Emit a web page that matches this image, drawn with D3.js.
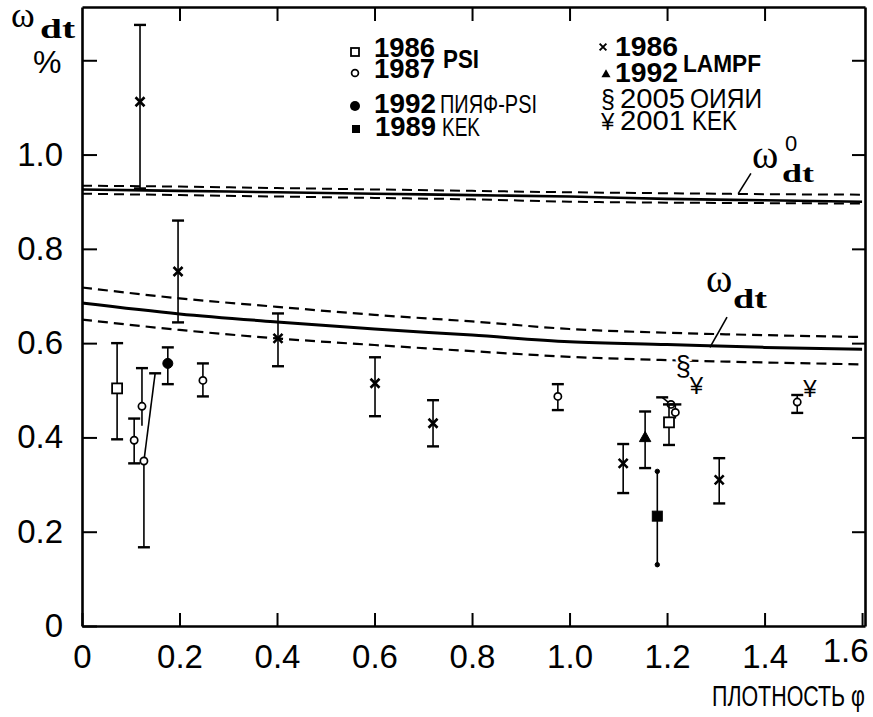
<!DOCTYPE html>
<html><head><meta charset="utf-8">
<script src="https://cdn.jsdelivr.net/npm/d3@7/dist/d3.min.js"></script>
<style>body{margin:0;background:#fff}svg{display:block}</style>
</head><body>
<svg id="c" width="873" height="717"></svg>
<script>
// ---- data ----
const xTicks = [0,0.2,0.4,0.6,0.8,1.0,1.2,1.4,1.6];
const xTickLabels = ["0","0.2","0.4","0.6","0.8","1.0","1.2","1.4","1.6"];
const yTicks = [0,0.2,0.4,0.6,0.8,1.0,1.2];
const yTickLabels = ["0","0.2","0.4","0.6","0.8","1.0",""];

const curvePhi = [0,0.2,0.4,0.6,0.8,1.0,1.2,1.4,1.6];
const wdt     = [0.685,0.662,0.645,0.630,0.617,0.603,0.597,0.591,0.587];
const wdtUp   = [0.718,0.695,0.677,0.660,0.646,0.630,0.622,0.617,0.613];
const wdtLo   = [0.650,0.628,0.610,0.596,0.583,0.571,0.564,0.559,0.555];
const w0      = [0.926,0.923,0.920,0.917,0.914,0.911,0.906,0.903,0.900];
const w0Up    = [0.934,0.932,0.929,0.926,0.923,0.920,0.918,0.916,0.915];
const w0Lo    = [0.917,0.914,0.911,0.908,0.905,0.900,0.898,0.897,0.896];

const lampf1986 = [
  {phi:0.119,w:1.112,lo:0.928,hi:1.275},
  {phi:0.197,w:0.752,lo:0.644,hi:0.860},
  {phi:0.402,w:0.610,lo:0.551,hi:0.663},
  {phi:0.601,w:0.515,lo:0.445,hi:0.570},
  {phi:0.720,w:0.430,lo:0.381,hi:0.479},
  {phi:1.110,w:0.345,lo:0.282,hi:0.386},
  {phi:1.307,w:0.310,lo:0.260,hi:0.356}
];
const lampf1992 = [{phi:1.155,w:0.400,lo:0.335,hi:0.455}];
const kek1989   = [{phi:1.180,w:0.233,lo:0.130,hi:0.328}];
const psi1986   = [
  {phi:0.072,w:0.504,lo:0.396,hi:0.600},
  {phi:1.204,w:0.432,lo:0.384,hi:0.470}
];
const psi1987   = [
  {phi:0.107,w:0.394,lo:0.345,hi:0.440},
  {phi:0.123,w:0.466,lo:0.425,hi:0.547,noLoCap:true},
  {phi:0.127,w:0.350,lo:0.167,hi:0.536,phiHi:0.150},
  {phi:0.248,w:0.521,lo:0.487,hi:0.557},
  {phi:0.976,w:0.487,lo:0.458,hi:0.513},
  {phi:1.208,w:0.470,lo:0.462,hi:0.485,phiHi:1.190,noLoCap:true},
  {phi:1.217,w:0.453,lo:0.440,hi:0.470,noLoCap:true},
  {phi:1.467,w:0.475,lo:0.452,hi:0.490}
];
const pnpi1992  = [{phi:0.176,w:0.557,lo:0.513,hi:0.591}];
const jinr2005  = [{phi:1.233,w:0.553}];
const kek2001   = [{phi:1.260,w:0.510},{phi:1.493,w:0.504}];

// ---- chart ----
const svg = d3.select("#c");
const x = d3.scaleLinear().domain([0,1.606]).range([82,865]);
const y = d3.scaleLinear().domain([0,1.313]).range([626,7]);
const FONT = "Liberation Sans, Arial, Helvetica, sans-serif";
const SERIF = "Liberation Serif, Times New Roman, serif";

// axes
const ax = svg.append("g").attr("font-family",FONT);
const gB = ax.append("g").attr("transform",`translate(0,${y(0)})`)
  .call(d3.axisBottom(x).tickValues(xTicks).tickSizeInner(-13).tickSizeOuter(0).tickPadding(19)
    .tickFormat((d,i)=>xTickLabels[i]));
gB.selectAll(".tick text").filter((d,i)=>i===xTicks.length-1).attr("dx",-17).attr("dy","0.53em");
const gL = ax.append("g").attr("transform",`translate(${x(0)},0)`)
  .call(d3.axisLeft(y).tickValues(yTicks).tickSizeInner(-15).tickSizeOuter(0).tickPadding(19)
    .tickFormat((d,i)=>yTickLabels[i]));
const gT = ax.append("g").attr("transform",`translate(0,${y.range()[1]})`)
  .call(d3.axisTop(x).tickValues(xTicks.slice(1,-1)).tickSizeInner(-14).tickSizeOuter(0).tickFormat(""));
const gR = ax.append("g").attr("transform",`translate(${x.range()[1]},0)`)
  .call(d3.axisRight(y).tickValues(yTicks.slice(1)).tickSizeInner(-13).tickSizeOuter(0).tickFormat(""));
[gB,gL,gT,gR].forEach(g=>{
  g.select(".domain").attr("stroke","#000").attr("stroke-width",2.6);
  g.selectAll(".tick line").attr("stroke","#000").attr("stroke-width",2);
  g.selectAll(".tick text").attr("fill","#000").attr("font-size",33);
});

// curves
const line = d3.line().x(d=>x(d[0])).y(d=>y(d[1])).curve(d3.curveMonotoneX);
const cg = svg.append("g").attr("fill","none").attr("stroke","#000");
function curve(vals, dashed, w){
  cg.append("path").attr("d",line(curvePhi.map((p,i)=>[p,vals[i]])))
    .attr("stroke-width",w).attr("stroke-dasharray",dashed?"10,6":null);
}
curve(wdt,false,3); curve(wdtUp,true,2.2); curve(wdtLo,true,2.2);
curve(w0,false,2.6); curve(w0Up,true,2); curve(w0Lo,true,2);

// leader lines for curve labels
svg.append("line").attr("x1",x(1.288)).attr("y1",y(0.591)).attr("x2",x(1.323)).attr("y2",y(0.655))
  .attr("stroke","#000").attr("stroke-width",1.6);
svg.append("line").attr("x1",x(1.346)).attr("y1",y(0.917)).attr("x2",x(1.372)).attr("y2",y(0.960))
  .attr("stroke","#000").attr("stroke-width",1.6);

// markers
function marker(g,type,cx,cy,s){
  s = s||1;
  if(type==="x"){
    const r=4.5*s;
    g.append("path").attr("d",`M${cx-r},${cy-r}L${cx+r},${cy+r}M${cx-r},${cy+r}L${cx+r},${cy-r}`)
      .attr("stroke","#000").attr("stroke-width",2.6*s).attr("fill","none");
  } else if(type==="sq"){
    const r=5*s;
    g.append("rect").attr("x",cx-r).attr("y",cy-r).attr("width",2*r).attr("height",2*r)
      .attr("fill","#fff").attr("stroke","#000").attr("stroke-width",1.8);
  } else if(type==="fsq"){
    const r=5*s;
    g.append("rect").attr("x",cx-r).attr("y",cy-r).attr("width",2*r).attr("height",2*r).attr("fill","#000");
  } else if(type==="o"){
    g.append("circle").attr("cx",cx).attr("cy",cy).attr("r",3.6*s)
      .attr("fill","#fff").attr("stroke","#000").attr("stroke-width",1.7);
  } else if(type==="fo"){
    g.append("circle").attr("cx",cx).attr("cy",cy).attr("r",5*s).attr("fill","#000");
  } else if(type==="tri"){
    const r=6*s;
    g.append("path").attr("d",`M${cx},${cy-r}L${cx+r*0.95},${cy+r*0.7}L${cx-r*0.95},${cy+r*0.7}Z`).attr("fill","#000");
  }
}
const pg = svg.append("g");
function series(data,type,capStyle){
  data.forEach(d=>{
    const cx=x(d.phi), cy=y(d.w);
    const g=pg.append("g").attr("stroke","#000");
    const topX = d.phiHi!==undefined ? x(d.phiHi) : cx;
    g.append("line").attr("x1",cx).attr("y1",cy).attr("x2",topX).attr("y2",y(d.hi)).attr("stroke-width",1.6);
    g.append("line").attr("x1",cx).attr("y1",cy).attr("x2",cx).attr("y2",y(d.lo)).attr("stroke-width",1.6);
    if(capStyle==="dot"){
      g.append("circle").attr("cx",cx).attr("cy",y(d.hi)).attr("r",2.2).attr("fill","#000");
      g.append("circle").attr("cx",cx).attr("cy",y(d.lo)).attr("r",2.2).attr("fill","#000");
    } else {
      g.append("line").attr("x1",topX-6).attr("x2",topX+6).attr("y1",y(d.hi)).attr("y2",y(d.hi)).attr("stroke-width",2.4);
      if(!d.noLoCap) g.append("line").attr("x1",cx-6).attr("x2",cx+6).attr("y1",y(d.lo)).attr("y2",y(d.lo)).attr("stroke-width",2.4);
    }
    marker(g,type,cx,cy);
  });
}
series(lampf1986,"x");
series(lampf1992,"tri");
series(kek1989,"fsq","dot");
series(psi1987,"o");
series(psi1986,"sq");
series(pnpi1992,"fo");

// text symbols
jinr2005.forEach(d=>{
  svg.append("text").attr("x",x(d.phi)).attr("y",y(d.w)).attr("dy","0.35em").attr("text-anchor","middle")
    .attr("font-family",FONT).attr("font-size",27).text("§")
    .attr("stroke","#fff").attr("stroke-width",5).attr("paint-order","stroke").attr("fill","#000");
});
kek2001.forEach(d=>{
  svg.append("text").attr("x",x(d.phi)).attr("y",y(d.w)).attr("dy","0.36em").attr("text-anchor","middle")
    .attr("font-family",FONT).attr("font-size",24).attr("fill","#000").text("¥");
});

// legend
const lg = svg.append("g").attr("font-family",FONT).attr("fill","#000");
function t(xp,yp,str,size,bold,len){
  const e=lg.append("text").attr("x",xp).attr("y",yp).attr("font-size",size)
    .attr("font-weight",bold?"bold":"normal").text(str);
  if(len) e.attr("textLength",len).attr("lengthAdjust","spacingAndGlyphs");
  return e;
}
marker(lg,"sq",355,52,0.8);  t(374,57,"1986",27,true,61);
marker(lg,"o",355,73,0.95);  t(374,78,"1987",27,true,61);
t(443,68,"PSI",25,true,36);
marker(lg,"fo",355,106,1);   t(374,113,"1992",27,true,62); t(440,113,"ПИЯФ-PSI",26,false,97);
marker(lg,"fsq",356,129,0.8); t(375,136,"1989",27,true,61); t(442,136,"KEK",26,false,38);
marker(lg,"x",603,47,0.75);  t(615,56,"1986",28,true,63);
marker(lg,"tri",606,74,0.8); t(615,82,"1992",28,true,63);
t(683,72,"LAMPF",24,true,78);
t(601,108,"§",25,false); t(620,108,"2005",27,false,65); t(690,108,"ОИЯИ",27,false,72);
t(601,130,"¥",24,false); t(620,130,"2001",27,false,65); t(692,130,"KEK",27,false,45);

// curve labels
const cl = svg.append("g").attr("fill","#000");
cl.append("text").attr("x",706).attr("y",292).attr("font-family",SERIF).attr("font-size",40).text("ω");
cl.append("text").attr("x",733).attr("y",308).attr("font-family",SERIF).attr("font-size",27)
  .attr("font-weight","bold").attr("textLength",34).attr("lengthAdjust","spacingAndGlyphs").text("dt");
cl.append("text").attr("x",752).attr("y",168).attr("font-family",SERIF).attr("font-size",40).text("ω");
cl.append("text").attr("x",782).attr("y",182).attr("font-family",SERIF).attr("font-size",26)
  .attr("font-weight","bold").attr("textLength",32).attr("lengthAdjust","spacingAndGlyphs").text("dt");
cl.append("text").attr("x",785).attr("y",151).attr("font-family",FONT).attr("font-size",22).text("0");

// axis titles
const at = svg.append("g").attr("fill","#000");
at.append("text").attr("x",11).attr("y",27).attr("font-family",SERIF).attr("font-size",36).text("ω");
at.append("text").attr("x",40).attr("y",38).attr("font-family",SERIF).attr("font-size",27)
  .attr("font-weight","bold").attr("textLength",35).attr("lengthAdjust","spacingAndGlyphs").text("dt");
at.append("text").attr("x",33).attr("y",73).attr("font-family",FONT).attr("font-size",32).text("%");
at.append("text").attr("x",712).attr("y",706).attr("font-family",FONT).attr("font-size",29)
  .attr("textLength",153).attr("lengthAdjust","spacingAndGlyphs").text("ПЛОТНОСТЬ φ");
</script>
</body></html>
